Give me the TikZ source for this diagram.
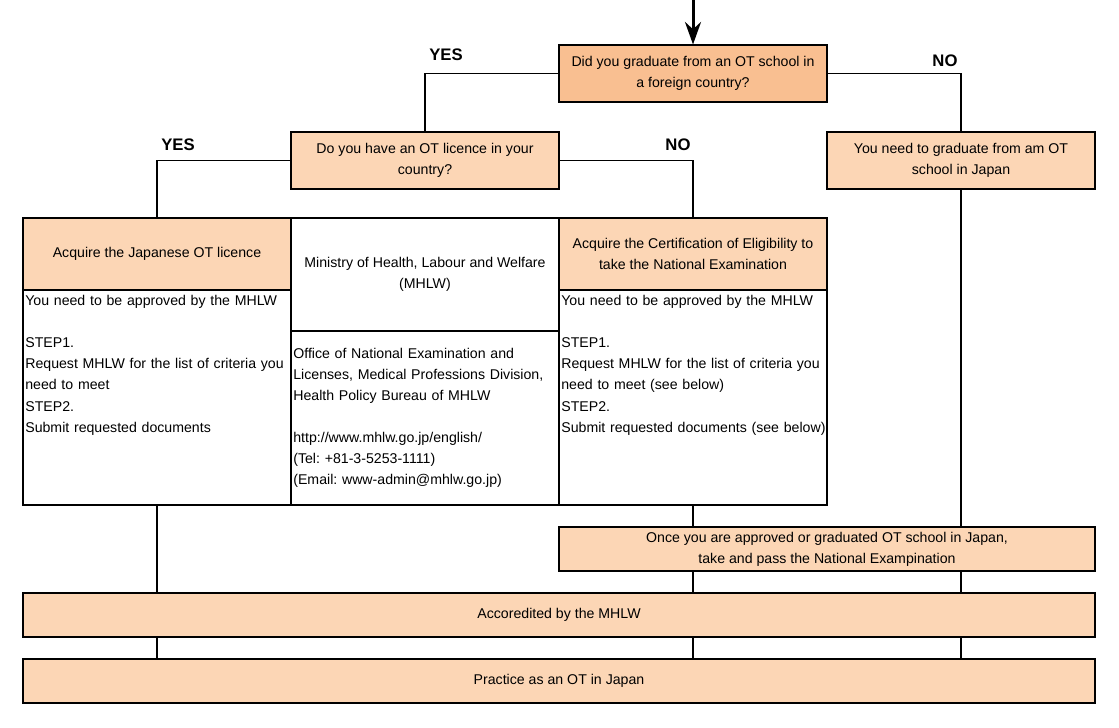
\documentclass[tikz,border=0pt]{standalone}
\usepackage{fontspec}
\setmainfont{Liberation Sans}
\usetikzlibrary{positioning,calc,arrows.meta}
\definecolor{qdark}{RGB}{249,191,145}
\definecolor{qlight}{RGB}{252,214,181}
\tikzset{font=\fontsize{8.05pt}{12pt}\selectfont}
\frenchspacing
\hyphenpenalty=10000

\begin{document}
\begin{tikzpicture}
	\useasboundingbox (0,0) rectangle (22.38,-14.54);
	\begin{scope}
		\tikzstyle{every node}=[align=center, inner sep=1pt]
		\tikzstyle{cell}=[draw, line width=0.6pt, minimum width=5.36cm, minimum height=1.14cm]
		\tikzstyle{wide}=[draw, line width=0.6pt, fill=qlight, minimum height=0.88cm]
		\tikzstyle{bodytext}=[text width=5.6cm, align=left, inner xsep=0.05cm, inner ysep=0.11cm]
		\tikzstyle{lbl}=[font=\fontsize{9.5pt}{12pt}\selectfont\bfseries]
		\tikzstyle{link}=[line width=1.1pt]

		% questions
		\node[cell, fill=qdark ] (q1)   at (13.86, -1.47) {Did you graduate from an OT school in\\a foreign country?};
		\node[cell, fill=qlight] (q2)   at (8.5, -3.21)   {Do you have an OT licence in your\\country?};
		\node[cell, fill=qlight] (grad) at (19.22, -3.21) {You need to graduate from am OT\\school in Japan};

		% three columns
		\node[cell, fill=qlight, minimum height=1.44cm] (jphead)   at (3.14, -5.08)  {Acquire the Japanese OT licence};
		\node[cell, minimum height=4.3cm]               (jpbody)   at (3.14, -7.95)  {};
		\node[cell, minimum height=2.26cm]              (mhtop)    at (8.5, -5.49)   {Ministry of Health, Labour and Welfare\\(MHLW)};
		\node[cell, minimum height=3.48cm]              (mhbody)   at (8.5, -8.36)   {};
		\node[cell, fill=qlight, minimum height=1.44cm] (certhead) at (13.86, -5.08) {Acquire the Certification of Eligibility to\\take the National Examination};
		\node[cell, minimum height=4.3cm]               (certbody) at (13.86, -7.95) {};

		\node[bodytext, anchor=north west] (jptext) at (jpbody.north west)
			{You need to be approved by the MHLW\\[12pt]STEP1.\\Request MHLW for the list of criteria you\\need to meet\\STEP2.\\Submit requested documents};
		\node[bodytext, anchor=west] (mhtext) at (mhbody.west)
			{Office of National Examination and\\Licenses, Medical Professions Division,\\Health Policy Bureau of MHLW\\[12pt]http://www.mhlw.go.jp/english/\\(Tel: +81-3-5253-1111)\\(Email: www-admin@mhlw.go.jp)};
		\node[bodytext, anchor=north west] (certtext) at (certbody.north west)
			{You need to be approved by the MHLW\\[12pt]STEP1.\\Request MHLW for the list of criteria you\\need to meet (see below)\\STEP2.\\Submit requested documents (see below)};

		% bottom rows
		\node[wide, minimum width=10.72cm] (once) at (16.54, -10.98) {Once you are approved or graduated OT school in Japan,\\take and pass the National Exampination};
		\node[wide, minimum width=21.44cm] (accr) at (11.18, -12.3)  {Accoredited by the MHLW};
		\node[wide, minimum width=21.44cm] (prac) at (11.18, -13.62) {Practice as an OT in Japan};

		% labels
		\node[lbl] (yes1) at (8.92, -1.1)  {YES};
		\node[lbl] (no1)  at (18.9, -1.22) {NO};
		\node[lbl] (yes2) at (3.56, -2.9)  {YES};
		\node[lbl] (no2)  at (13.56, -2.9) {NO};

		\coordinate (start) at (13.86, 0);
		\draw[-{Stealth[length=4.5mm, width=3.2mm]}, line width=1.7pt](start) -- (q1.north);
		\draw[link](q1.west) -| (q2.north);
		\draw[link](q1.east) -| (grad.north);
		\draw[link](q2.west) -| (jphead.north);
		\draw[link](q2.east) -| (certhead.north);
		\draw[link](grad.south) -- (grad.south |- once.north);
		\draw[link](certbody.south) -- (certbody.south |- once.north);
		\draw[link](jpbody.south) -- (jpbody.south |- accr.north);
		\draw[link](once.south -| certbody.south) -- (accr.north -| certbody.south);
		\draw[link](once.south -| grad.south) -- (accr.north -| grad.south);
		\draw[link](accr.south -| jpbody.south) -- (prac.north -| jpbody.south);
		\draw[link](accr.south -| certbody.south) -- (prac.north -| certbody.south);
		\draw[link](accr.south -| grad.south) -- (prac.north -| grad.south);
	\end{scope}
\end{tikzpicture}
\end{document}
